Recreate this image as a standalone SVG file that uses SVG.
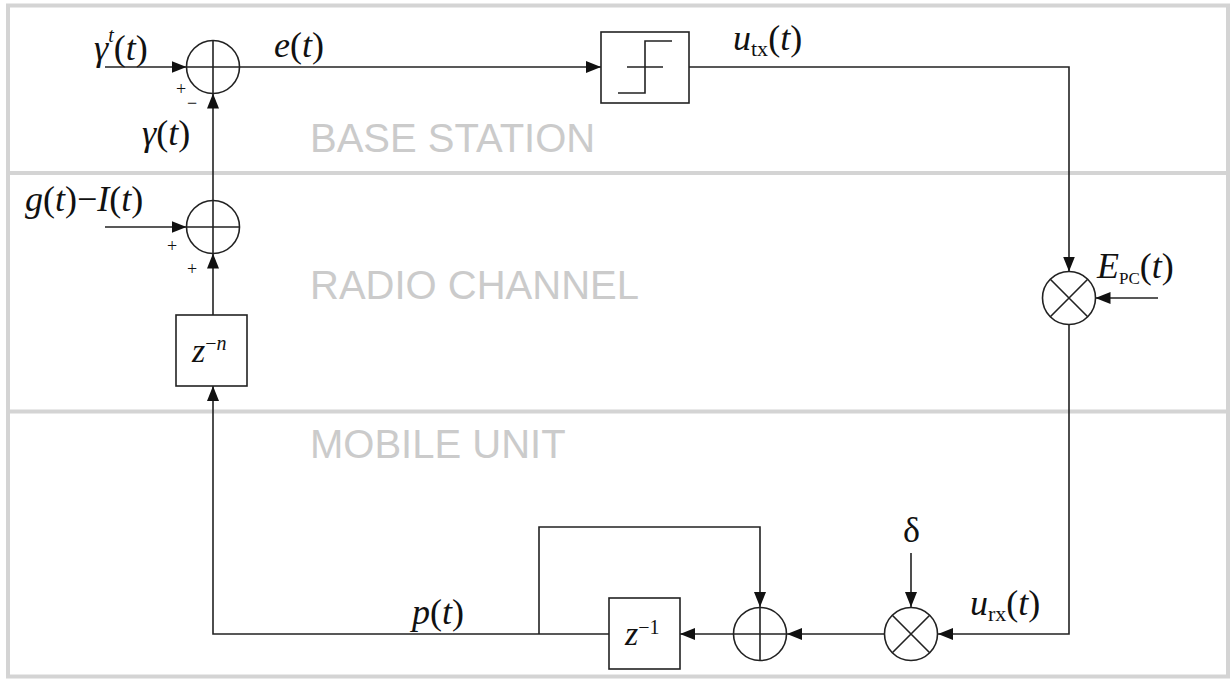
<svg xmlns="http://www.w3.org/2000/svg" width="1230" height="680" viewBox="0 0 1230 680">
<style>
.frame{fill:none;stroke:#d4d4d4;stroke-width:4}
.sep{stroke:#d4d4d4;stroke-width:4}
.zone{font-family:"Liberation Sans",Arial,sans-serif;font-size:40px;fill:#cbcbcb}
.blk{fill:#fff;stroke:#222;stroke-width:1.6}
.ln{fill:none;stroke:#222;stroke-width:1.6}
.wire{fill:none;stroke:#222;stroke-width:1.6;marker-end:url(#ah)}
.m{font-family:"Liberation Serif","Times New Roman",serif;font-size:36px;fill:#111}
.i{font-style:italic}
.sup{font-size:20px}
.sub{font-size:22px}
.sg{font-family:"Liberation Serif","Times New Roman",serif;font-size:18px;fill:#111}
</style>
<defs>
<marker id="ah" markerUnits="userSpaceOnUse" markerWidth="15" markerHeight="12" refX="15" refY="6" orient="auto">
<path d="M0,0 L15,6 L0,12 z" fill="#111"/>
</marker>
</defs>
<g id="background">
<rect class="frame" x="8" y="5.5" width="1220" height="671"/>
<line class="sep" x1="8" y1="173" x2="1228" y2="173"/>
<line class="sep" x1="8" y1="411.5" x2="1228" y2="411.5"/>
<text class="zone" x="310" y="152">BASE STATION</text>
<text class="zone" x="310" y="299">RADIO CHANNEL</text>
<text class="zone" x="310" y="458">MOBILE UNIT</text>
</g>
<g id="connectors">
<path class="wire" d="M105,67 H186.5"/>
<path class="wire" d="M239.5,67 H601"/>
<path class="wire" d="M689,67 H1069 V271.5"/>
<path class="wire" d="M1158,298 H1095.5"/>
<path class="wire" d="M1069,324.5 V634 H938"/>
<path class="wire" d="M911,553 V607"/>
<path class="wire" d="M884,634 H787"/>
<path class="wire" d="M733,634 H680"/>
<path class="wire" d="M609,634 H213 V386"/>
<path class="wire" d="M539,634 V527 H760 V607"/>
<path class="wire" d="M213,315 V253.5"/>
<path class="wire" d="M105,227 H186.5"/>
<path class="wire" d="M213,200.5 V93.5"/>
</g>
<g id="sum1">
<circle class="blk" cx="213" cy="67" r="26.5"/>
<path class="ln" d="M186.5,67 H239.5 M213,40.5 V93.5"/>
<text class="sg" x="176" y="95">+</text>
<text class="sg" x="187" y="109">−</text>
</g>
<g id="sum2">
<circle class="blk" cx="213" cy="227" r="26.5"/>
<path class="ln" d="M186.5,227 H239.5 M213,200.5 V253.5"/>
<text class="sg" x="167" y="252">+</text>
<text class="sg" x="187" y="275">+</text>
</g>
<g id="delay-n">
<rect class="blk" x="176" y="315" width="71" height="71"/>
<text class="m i" x="192" y="362" style="font-size:34px">z<tspan class="sup" dy="-12" font-style="normal">−</tspan><tspan class="sup" font-style="italic">n</tspan></text>
</g>
<g id="threshold">
<rect class="blk" x="601" y="32" width="88" height="71"/>
<path class="ln" d="M618,93 H645 V41 H672 M627,67 H663"/>
</g>
<g id="mult1">
<circle class="blk" cx="1069" cy="298" r="26.5"/>
<path class="ln" d="M1050.3,279.3 L1087.7,316.7 M1087.7,279.3 L1050.3,316.7"/>
</g>
<g id="mult2">
<circle class="blk" cx="911" cy="634" r="26.5"/>
<path class="ln" d="M892.3,615.3 L929.7,652.7 M929.7,615.3 L892.3,652.7"/>
</g>
<g id="sum3">
<circle class="blk" cx="760" cy="634" r="26.5"/>
<path class="ln" d="M733.5,634 H786.5 M760,607.5 V660.5"/>
</g>
<g id="delay-1">
<rect class="blk" x="609" y="598" width="71" height="71"/>
<text class="m i" x="625" y="645" style="font-size:34px">z<tspan class="sup" dy="-11" font-style="normal">−1</tspan></text>
</g>
<g id="labels">
<text class="m" x="94" y="60"><tspan class="i">γ</tspan><tspan class="sup i" dy="-18">t</tspan><tspan dy="18">(</tspan><tspan class="i">t</tspan>)</text>
<text class="m" x="274" y="57"><tspan class="i">e</tspan>(<tspan class="i">t</tspan>)</text>
<text class="m" x="142" y="145"><tspan class="i">γ</tspan>(<tspan class="i">t</tspan>)</text>
<text class="m" x="25" y="211"><tspan class="i">g</tspan>(<tspan class="i">t</tspan>)−<tspan class="i">I</tspan>(<tspan class="i">t</tspan>)</text>
<text class="m" x="733" y="50"><tspan class="i">u</tspan><tspan class="sub" dy="6">tx</tspan><tspan dy="-6">(</tspan><tspan class="i">t</tspan>)</text>
<text class="m" x="1097" y="278"><tspan class="i">E</tspan><tspan style="font-size:17px" dy="6">PC</tspan><tspan dy="-6">(</tspan><tspan class="i">t</tspan>)</text>
<text class="m" x="903" y="542">δ</text>
<text class="m" x="970" y="615"><tspan class="i">u</tspan><tspan class="sub" dy="6">rx</tspan><tspan dy="-6">(</tspan><tspan class="i">t</tspan>)</text>
<text class="m" x="412" y="624"><tspan class="i">p</tspan>(<tspan class="i">t</tspan>)</text>
</g>
</svg>
